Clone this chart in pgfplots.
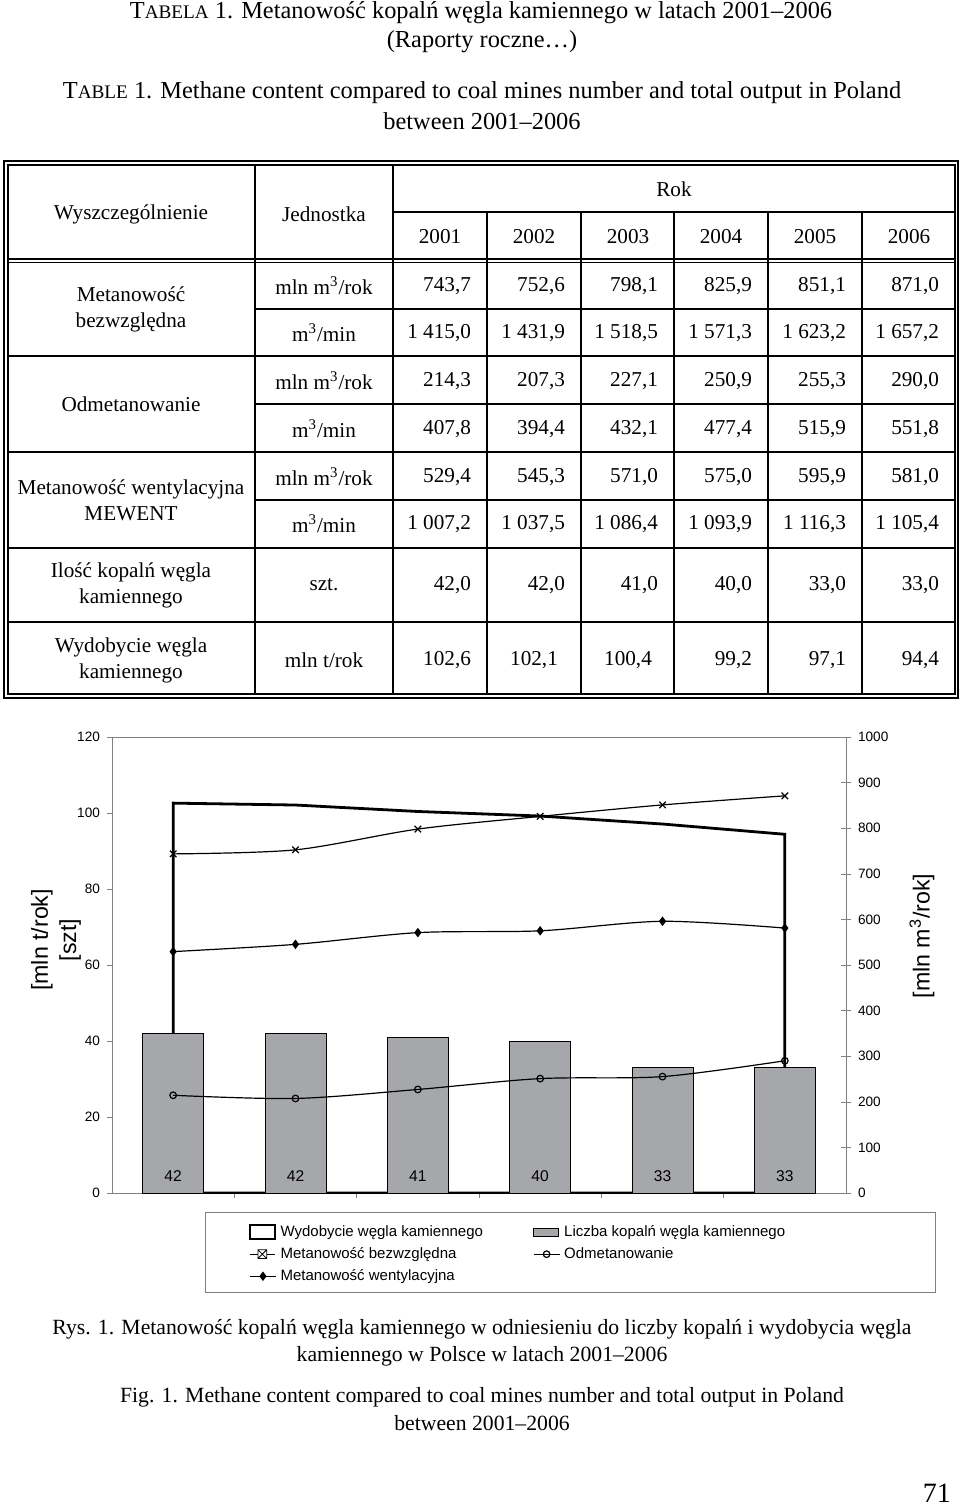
\documentclass[border=0pt]{standalone}
\usepackage{fontspec}
\setmainfont{Liberation Serif}
\newfontfamily\arial{Liberation Sans}
\usepackage{pgfplots}
\usepackage{pgfplotstable}
\pgfplotsset{compat=1.18}

\definecolor{bargray}{RGB}{166,167,171}
\definecolor{axgray}{RGB}{128,128,128}

% i = year index (2001 ... 2006)
\pgfplotstableread{
i out   mines bezw  odm   went
0 102.6 42    743.7 214.3 529.4
1 102.1 42    752.6 207.3 545.3
2 100.4 41    798.1 227.1 571.0
3 99.2  40    825.9 250.9 575.0
4 97.1  33    851.1 255.3 595.9
5 94.4  33    871.0 290.0 581.0
}\data

\newcommand\tf{\fontsize{10.6}{13}\selectfont}
\newcommand\hf{\fontsize{12.2}{14}\selectfont}
\newcommand\cf{\fontsize{10.85}{13}\selectfont}
% one row of values, right aligned in the year columns
\newcommand\vals[7]{%
  \node[anchor=east,font=\tf] at (478,#1) {#2};
  \node[anchor=east,font=\tf] at (572,#1) {#3};
  \node[anchor=east,font=\tf] at (665,#1) {#4};
  \node[anchor=east,font=\tf] at (759,#1) {#5};
  \node[anchor=east,font=\tf] at (853,#1) {#6};
  \node[anchor=east,font=\tf] at (946,#1) {#7};}

\begin{document}
\begin{tikzpicture}[x=0.5pt,y=-0.5pt]
\path[use as bounding box] (0,0) rectangle (960,1507);

% titles
\node[font=\hf] at (481,13) {T{\fontsize{9.6}{10}\selectfont ABELA} 1. Metanowość kopalń węgla kamiennego w latach 2001–2006};
\node[font=\hf] at (482,42) {(Raporty roczne…)};
\node[font=\hf] at (482,93) {T{\fontsize{9.6}{10}\selectfont ABLE} 1. Methane content compared to coal mines number and total output in Poland};
\node[font=\hf] at (482,121) {between 2001–2006};

% table frame
\draw[line width=0.75pt] (4,161) rectangle (958,698);
\draw[line width=0.75pt] (8,165) rectangle (955,694);
\draw[line width=0.7pt] (8,259)--(955,259) (8,262.5)--(955,262.5);
\draw[line width=0.7pt] (255,165)--(255,694) (393,165)--(393,694) (393,212)--(955,212);
\foreach \x in {487,581,674,768,862} \draw[line width=0.7pt] (\x,212)--(\x,694);
\foreach \y in {309,404,500} \draw[line width=0.7pt] (255,\y)--(955,\y);
\foreach \y in {356,452,548,622} \draw[line width=0.7pt] (8,\y)--(955,\y);

% header
\node[font=\tf] at (131,214) {Wyszczególnienie};
\node[font=\tf] at (324,214) {Jednostka};
\node[font=\tf] at (674,189) {Rok};
\foreach \x/\yr in {440/2001,534/2002,628/2003,721/2004,815/2005,909/2006}
  \node[font=\tf] at (\x,237) {\yr};

% first column
\node[font=\tf,align=center] at (131,309) {Metanowość\\bezwzględna};
\node[font=\tf] at (131,404) {Odmetanowanie};
\node[font=\tf,align=center] at (131,500) {Metanowość wentylacyjna\\MEWENT};
\node[font=\tf,align=center] at (131,585) {Ilość kopalń węgla\\kamiennego};
\node[font=\tf,align=center] at (131,660) {Wydobycie węgla\\kamiennego};

% units
\foreach \y in {286,381,477} \node[font=\tf] at (324,\y) {mln m\textsuperscript{3}/rok};
\foreach \y in {333,429,524} \node[font=\tf] at (324,\y) {m\textsuperscript{3}/min};
\node[font=\tf] at (324,585) {szt.};
\node[font=\tf] at (324,660) {mln t/rok};

% values
\vals{286}{743,7}{752,6}{798,1}{825,9}{851,1}{871,0}
\vals{333}{1 415,0}{1 431,9}{1 518,5}{1 571,3}{1 623,2}{1 657,2}
\vals{381}{214,3}{207,3}{227,1}{250,9}{255,3}{290,0}
\vals{429}{407,8}{394,4}{432,1}{477,4}{515,9}{551,8}
\vals{477}{529,4}{545,3}{571,0}{575,0}{595,9}{581,0}
\vals{524}{1 007,2}{1 037,5}{1 086,4}{1 093,9}{1 116,3}{1 105,4}
\vals{585}{42,0}{42,0}{41,0}{40,0}{33,0}{33,0}
\node[anchor=east,font=\tf] at (478,660) {102,6};
\node[font=\tf] at (534,660) {102,1};
\node[font=\tf] at (628,660) {100,4};
\node[anchor=east,font=\tf] at (759,660) {99,2};
\node[anchor=east,font=\tf] at (853,660) {97,1};
\node[anchor=east,font=\tf] at (946,660) {94,4};

% chart, left axis: output (area) and number of mines (bars)
\begin{axis}[
  at={(56pt,-596.5pt)}, anchor=south west, scale only axis,
  width=367pt, height=228pt,
  xmin=-0.5, xmax=5.5, ymin=0, ymax=120,
  xtick={0.5,1.5,2.5,3.5,4.5}, xticklabels={},
  ytick={0,20,...,120},
  xtick pos=bottom, ytick pos=left, tick align=outside,
  major tick length=2.5pt,
  axis line style={axgray}, major tick style={axgray},
  ticklabel style={font=\arial\fontsize{6.8}{8}\selectfont},
  /pgf/number format/assume math mode=true,
  ylabel={[mln t/rok]\\{[szt]}},
  ylabel style={align=center, font=\arial\fontsize{11.6}{14}\selectfont,
    at={(axis description cs:-0.0763,0.555)}, anchor=center},
]
\addplot[fill=white, draw=black, line width=1.4pt] table[x=i,y=out]{\data} \closedcycle;
\addplot[ybar, bar width=30.5pt, fill=bargray, draw=black, line width=0.5pt] table[x=i,y=mines]{\data};
\addplot[draw=none, mark=none, nodes near coords, point meta=explicit,
  nodes near coords style={font=\arial\fontsize{7.8}{9}\selectfont, anchor=base, yshift=5.75pt},
  /pgf/number format/assume math mode=true]
  table[x=i, y expr=0, meta=mines]{\data};
\end{axis}

% chart, right axis: methane
\begin{axis}[
  at={(56pt,-596.5pt)}, anchor=south west, scale only axis,
  width=367pt, height=228pt,
  xmin=-0.5, xmax=5.5, ymin=0, ymax=1000,
  axis x line=none, axis y line*=right,
  ytick={0,100,...,1000}, tick align=center, major tick length=5pt,
  axis line style={axgray}, major tick style={axgray},
  ticklabel style={font=\arial\fontsize{6.8}{8}\selectfont},
  /pgf/number format/assume math mode=true,
  /pgf/number format/1000 sep={},
  ylabel={[mln m\textsuperscript{3}/rok]},
  ylabel style={font=\arial\fontsize{11.6}{14}\selectfont,
    at={(axis description cs:1.1035,0.5636)}, anchor=center},
  legend columns=2,
  legend cell align=left,
  legend style={draw=none, fill=none, font=\arial\fontsize{7.5}{9}\selectfont,
    at={(axis description cs:0.178,-0.052)}, anchor=north west,
    /tikz/column 2/.style={column sep=23pt}, row sep=0pt},
  legend image code/.code={\draw[mark repeat=2,mark phase=2,#1]
    plot coordinates {(0pt,0pt) (6.5pt,0pt) (13pt,0pt)};},
]
\addlegendimage{legend image code/.code={\draw[black,line width=0.9pt,fill=white] (0pt,-3.5pt) rectangle (12.5pt,3.5pt);}}
\addlegendentry{Wydobycie węgla kamiennego}
\addlegendimage{legend image code/.code={\draw[black,line width=0.4pt,fill=bargray] (0pt,-2pt) rectangle (12.5pt,2pt);}}
\addlegendentry{Liczba kopalń węgla kamiennego}
\addplot[smooth, black, line width=0.6pt, mark=x, mark size=2.3pt,
  legend image code/.code={\draw[black,line width=0.6pt] (0pt,0pt)--(12.5pt,0pt);
    \draw[black,line width=0.4pt,fill=white] (4pt,-2.2pt) rectangle (8.4pt,2.2pt)
      (4pt,-2.2pt)--(8.4pt,2.2pt) (4pt,2.2pt)--(8.4pt,-2.2pt);}]
  table[x=i,y=bezw]{\data};
\addlegendentry{Metanowość bezwzględna}
\addplot[smooth, black, line width=0.6pt, mark=o, mark size=1.65pt,
  mark options={fill=none}] table[x=i,y=odm]{\data};
\addlegendentry{Odmetanowanie}
\addplot[smooth, black, line width=0.6pt, mark=diamond*, mark size=1.9pt]
  table[x=i,y=went]{\data};
\addlegendentry{Metanowość wentylacyjna}
\end{axis}

% legend frame
\draw[axgray, line width=0.5pt] (205,1212) rectangle (935,1292);

% captions
\node[font=\cf] at (482,1329) {Rys. 1. Metanowość kopalń węgla kamiennego w odniesieniu do liczby kopalń i wydobycia węgla};
\node[font=\cf] at (482,1356) {kamiennego w Polsce w latach 2001–2006};
\node[font=\cf] at (482,1397) {Fig. 1. Methane content compared to coal mines number and total output in Poland};
\node[font=\cf] at (482,1423) {between 2001–2006};
\node[font=\fontsize{14}{16}\selectfont, anchor=east] at (958,1493) {71};
\end{tikzpicture}
\end{document}
